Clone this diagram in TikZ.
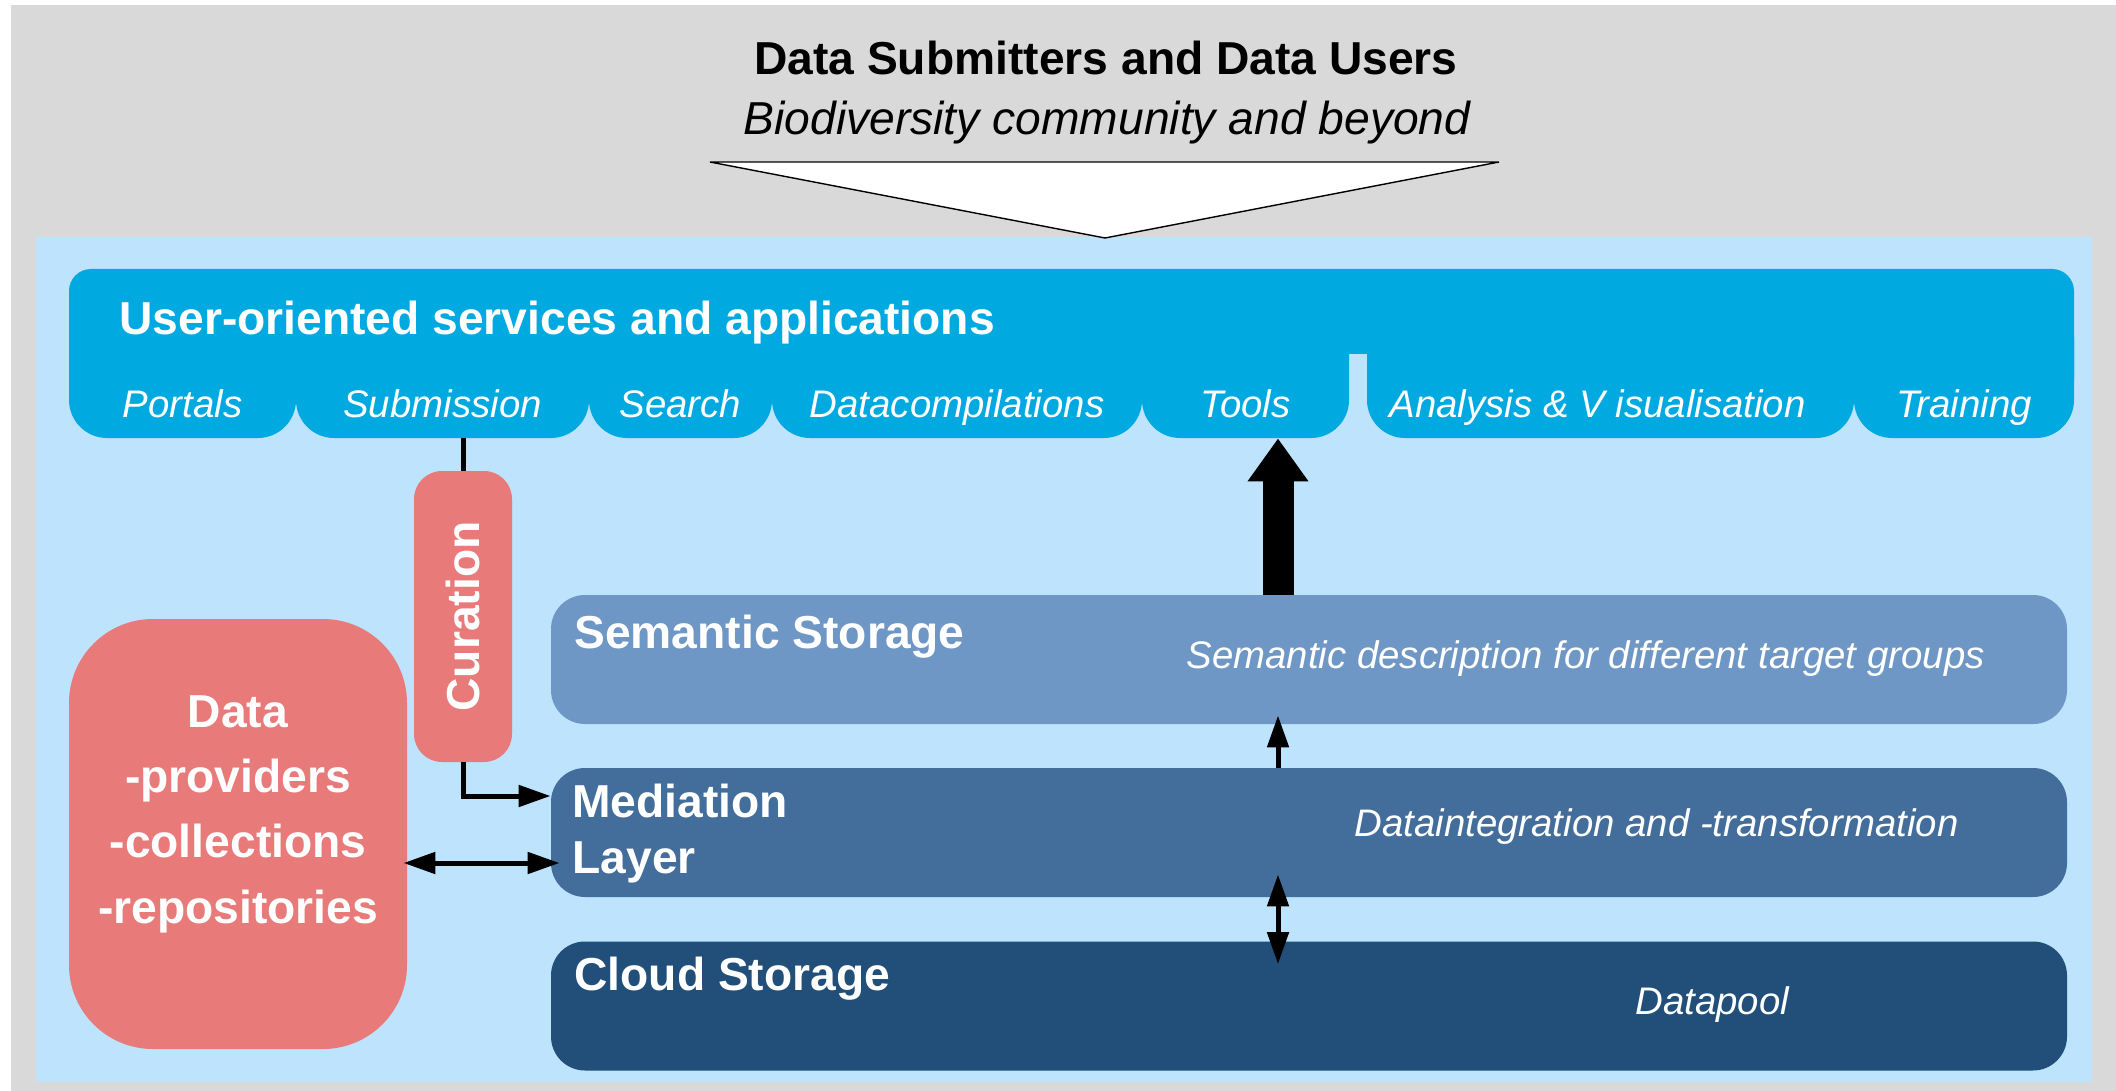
\documentclass[tikz,border=0pt]{standalone}
\usepackage{fontspec}
\setmainfont{Liberation Sans}
\usetikzlibrary{arrows.meta}
\definecolor{bggray}{HTML}{D9D9D9}
\definecolor{ltblue}{HTML}{BDE3FD}
\definecolor{userblue}{HTML}{00A9E0}
\definecolor{salmon}{HTML}{E87A79}
\definecolor{semblue}{HTML}{6E97C5}
\definecolor{medblue}{HTML}{436D9B}
\definecolor{cloudblue}{HTML}{214F79}
\begin{document}
\begin{tikzpicture}[x=0.5pt,y=-0.5pt,
  bigf/.style={font=\fontsize{23.1}{28}\selectfont\bfseries},
  itf/.style={font=\fontsize{19.2}{23}\selectfont\itshape},
  txt/.style={inner sep=0pt,text=white},
  tab/.style={fill=userblue,rounded corners=19pt,minimum height=69pt,inner sep=0pt,
              text height=58.5pt,text depth=10.5pt,text=white,itf},
  layer/.style={rounded corners=17pt,minimum width=758pt,minimum height=64.5pt,inner sep=0pt},
  conn/.style={line width=2.5pt,>={Triangle[length=16pt,width=10.5pt]}},
]
\useasboundingbox (0,0) rectangle (2116,1091);
\fill[white] (0,0) rectangle (2116,1091);
\fill[bggray] (11,5) rectangle (2116,1091);
\fill[ltblue] (36,237) rectangle (2092,1082);

% header
\node[inner sep=0pt,anchor=base,bigf] (title) at (1106,75) {Data Submitters and Data Users};
\node[inner sep=0pt,anchor=base,font=\fontsize{23.1}{28}\selectfont\itshape] (subtitle) at (1107,135) {Biodiversity community and beyond};
\filldraw[fill=white,draw=black,line width=0.7pt] (710,162) -- (1499,162) -- (1105,238) -- cycle;

% user-oriented services
\node[fill=userblue,rounded corners=11pt,minimum width=1002.5pt,minimum height=65.5pt,inner sep=0pt] (user) at (1071.5,334.5) {};
\fill[ltblue] (1349,354) rectangle (1367,445);
\node[tab,minimum width=113.5pt] (portals) at (182.5,369) {Portals};
\node[tab,minimum width=146.5pt] (submission) at (442.5,369) {Submission};
\node[tab,minimum width=91.5pt] (search) at (680.5,369) {Search};
\node[tab,minimum width=185pt] (datacomp) at (957,369) {Datacompilations};
\node[tab,minimum width=103.5pt] (tools) at (1245.5,369) {Tools};
\node[tab,minimum width=243.5pt] (analysis) at (1610.5,369) {\hspace*{-13pt}Analysis \& V isualisation};
\node[tab,minimum width=110pt] (training) at (1964,369) {Training};
\node[txt,bigf,anchor=base west] (usertitle) at (119,335) {User-oriented services and applications};

% layers
\node[layer,fill=semblue] (semantic) at (1309,659.5) {};
\node[layer,fill=medblue] (mediation) at (1309,832.5) {};
\node[layer,fill=cloudblue] (cloud) at (1309,1006) {};
\node[txt,bigf,anchor=base west] (semtitle) at (574,648) {Semantic Storage};
\node[txt,itf,anchor=base west] (semdesc) at (1186,668) {Semantic description for different target groups};
\node[txt,font=\fontsize{23.1}{28}\selectfont\bfseries,align=left,anchor=north west] (medtitle) at (572,784) {Mediation\\Layer};
\node[txt,itf,anchor=base west] (meddesc) at (1354,836) {Dataintegration and -transformation};
\node[txt,bigf,anchor=base west] (cloudtitle) at (574,990) {Cloud Storage};
\node[txt,itf,anchor=base west] (clouddesc) at (1635,1014) {Datapool};

% data and curation
\node[fill=salmon,rounded corners=42pt,minimum width=169pt,minimum height=215pt,inner sep=0pt] (data) at (238,834) {};
\node[txt,font=\fontsize{23.1}{32.65}\selectfont\bfseries,align=center,anchor=north] (datatext) at (238,695) {Data\\-providers\\-collections\\-repositories};
\node[fill=salmon,rounded corners=14pt,minimum width=49pt,minimum height=145.5pt,inner sep=0pt] (curation) at (463,616.5) {};
\node[txt,bigf,rotate=90] (curtext) at (curation.center) {Curation};

% connectors
\coordinate (ax) at (1278,0);
\draw[conn] (curation.north) -- (curation.north |- submission.south);
\draw[conn,->] (curation.south) |- ([yshift=18.25pt]mediation.west);
\coordinate (dmR) at ([yshift=-15.25pt]mediation.west);
\draw[conn,<->,shorten <=-2pt,shorten >=-4.5pt] (dmR -| data.east) -- (dmR);
\draw[line width=15.5pt,-{Triangle[length=21.5pt,width=29pt]}] (ax |- semantic.north) -- (ax |- tools.south);
\draw[conn,->,shorten >=-4.5pt] (ax |- mediation.north) -- (ax |- semantic.south);
\draw[conn,<->,shorten >=-11.5pt,shorten <=-11.5pt] (ax |- cloud.north) -- (ax |- mediation.south);
\end{tikzpicture}
\end{document}
